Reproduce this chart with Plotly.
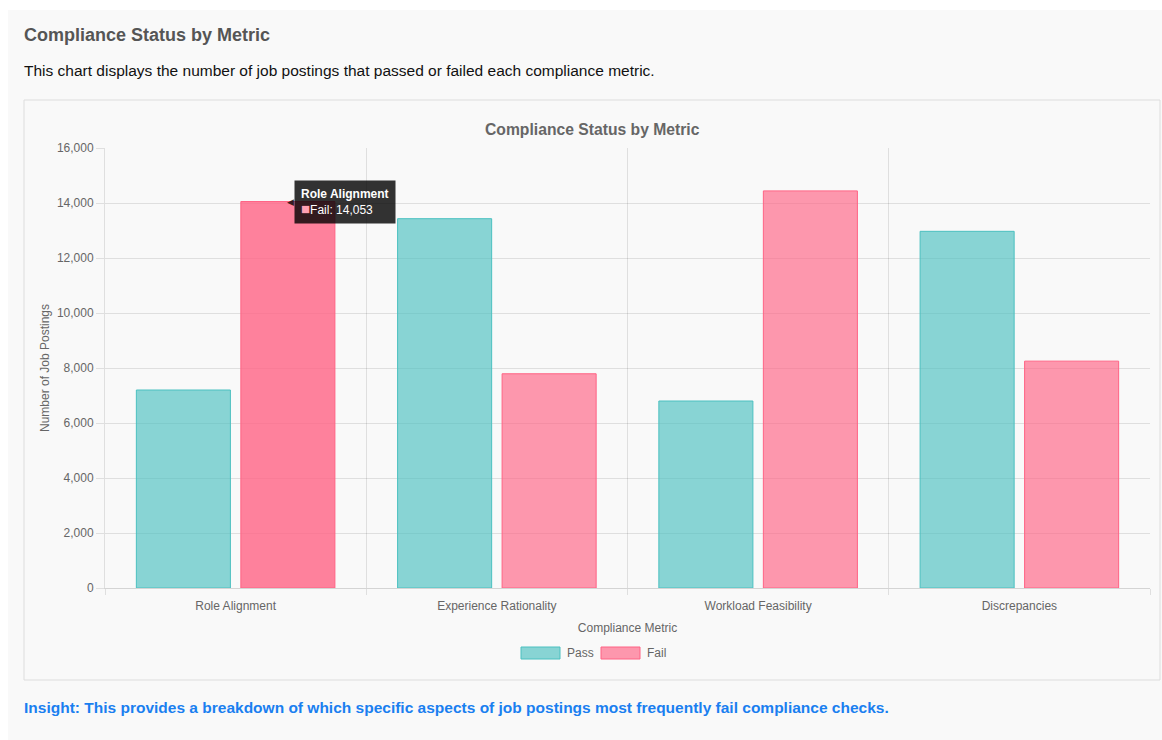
import plotly.graph_objects as go

categories = ["Role Alignment", "Experience Rationality", "Workload Feasibility", "Discrepancies"]
pass_values = [7200, 13430, 6800, 12970]
fail_values = [14053, 7790, 14440, 8250]
y_ticks = [0, 2000, 4000, 6000, 8000, 10000, 12000, 14000, 16000]
series_names = ["Pass", "Fail"]

W, H = 1162, 740
ML, MR, MT, MB = 105, 12, 148, 152
PW, PH = W - ML - MR, H - MT - MB

def px(x):
    return (x - ML) / PW

def py(y):
    return (H - MB - y) / PH

FONT = "Liberation Sans, Arial, Helvetica, sans-serif"
GRID = "rgba(0,0,0,0.1)"
PASS_FILL, PASS_LINE = "rgba(75,192,192,0.65)", "rgba(75,192,192,1)"
FAIL_FILL, FAIL_LINE = "rgba(255,99,132,0.65)", "rgba(255,99,132,1)"

fig = go.Figure()
fig.add_trace(go.Bar(
    name=series_names[0], x=categories, y=pass_values, showlegend=False,
    marker=dict(color=PASS_FILL, line=dict(color=PASS_LINE, width=1)),
))
fail_colors = ["rgba(255,99,132,0.8)"] + [FAIL_FILL] * (len(categories) - 1)
fig.add_trace(go.Bar(
    name=series_names[1], x=categories, y=fail_values, showlegend=False,
    marker=dict(color=fail_colors, line=dict(color=FAIL_LINE, width=1)),
))

shapes = [
    # card background
    dict(type="rect", xref="paper", yref="paper", x0=px(8), x1=px(1175), y0=py(10), y1=py(745),
         fillcolor="#f9f9f9", line=dict(width=0), layer="below"),
    # chart container
    dict(type="rect", xref="paper", yref="paper", x0=px(24), x1=px(1160), y0=py(100), y1=py(680),
         fillcolor="#f9f9f9", line=dict(color="#dddddd", width=1), layer="below"),
    # legend boxes
    dict(type="rect", xref="paper", yref="paper", x0=px(521), x1=px(560), y0=py(647), y1=py(659),
         fillcolor=PASS_FILL, line=dict(color=PASS_LINE, width=1)),
    dict(type="rect", xref="paper", yref="paper", x0=px(601), x1=px(640), y0=py(647), y1=py(659),
         fillcolor=FAIL_FILL, line=dict(color=FAIL_LINE, width=1)),
]

annotations = [
    dict(text="<b>Compliance Status by Metric</b>", xref="paper", yref="paper", x=px(22), y=py(35),
         xanchor="left", yanchor="middle", showarrow=False, font=dict(size=18, color="#555555", family=FONT)),
    dict(text="This chart displays the number of job postings that passed or failed each compliance metric.",
         xref="paper", yref="paper", x=px(22), y=py(71), xanchor="left", yanchor="middle", showarrow=False,
         font=dict(size=15.5, color="#111111", family=FONT)),
    dict(text="<b>Compliance Status by Metric</b>", xref="paper", yref="paper", x=px(592), y=py(129),
         xanchor="center", yanchor="middle", showarrow=False, font=dict(size=15.7, color="#666666", family=FONT)),
    dict(text="<b>Insight: This provides a breakdown of which specific aspects of job postings most frequently fail compliance checks.</b>",
         xref="paper", yref="paper", x=px(22), y=py(707), xanchor="left", yanchor="middle", showarrow=False,
         font=dict(size=15.5, color="#1a7ff0", family=FONT)),
    # legend labels
    dict(text=series_names[0], xref="paper", yref="paper", x=px(565), y=py(653), xanchor="left", yanchor="middle",
         showarrow=False, font=dict(size=12, color="#666666", family=FONT)),
    dict(text=series_names[1], xref="paper", yref="paper", x=px(645), y=py(653), xanchor="left", yanchor="middle",
         showarrow=False, font=dict(size=12, color="#666666", family=FONT)),
    # tooltip caret
    dict(text="◀", xref="x", yref="y", x=categories[0], y=fail_values[0], xanchor="right", yanchor="middle",
         xshift=60, showarrow=False, font=dict(size=9, color="rgba(0,0,0,0.8)", family="DejaVu Sans")),
    # tooltip
    dict(text="<b>" + categories[0] + "</b><br><span style='color:#ff9fb3;font-size:15px'>■</span>" + series_names[1] + ": " + f"{fail_values[0]:,}",
         xref="x", yref="y", x=categories[0], y=fail_values[0], xanchor="left", yanchor="middle",
         xshift=58, showarrow=False, align="left", bgcolor="rgba(0,0,0,0.8)", borderpad=6,
         font=dict(size=12, color="white", family=FONT)),
]

fig.update_layout(
    width=W, height=H,
    margin=dict(l=ML, r=MR, t=MT, b=MB),
    paper_bgcolor="white", plot_bgcolor="rgba(0,0,0,0)",
    font=dict(family=FONT, size=12, color="#666666"),
    barmode="group", bargap=0.2, bargroupgap=0.1,
    showlegend=False,
    shapes=shapes, annotations=annotations,
    hovermode=False,
)
fig.update_xaxes(
    tickson="boundaries", ticks="outside", ticklen=6, tickcolor=GRID,
    showgrid=True, gridcolor=GRID, gridwidth=1,
    showline=True, linecolor="rgba(0,0,0,0.15)", linewidth=1,
    tickfont=dict(size=12, color="#666666"), ticklabelstandoff=7,
    title=dict(text="Compliance Metric", standoff=11, font=dict(size=12, color="#666666")),
)
fig.update_yaxes(
    range=[0, 16000], tickvals=y_ticks, tickformat=",",
    ticks="outside", ticklen=8, tickcolor=GRID,
    showgrid=True, gridcolor=GRID, gridwidth=1, zeroline=False,
    showline=True, linecolor=GRID,
    tickfont=dict(size=12, color="#666666"),
    title=dict(text="Number of Job Postings", standoff=4, font=dict(size=12, color="#666666")),
)

fig.write_html("out.html")
